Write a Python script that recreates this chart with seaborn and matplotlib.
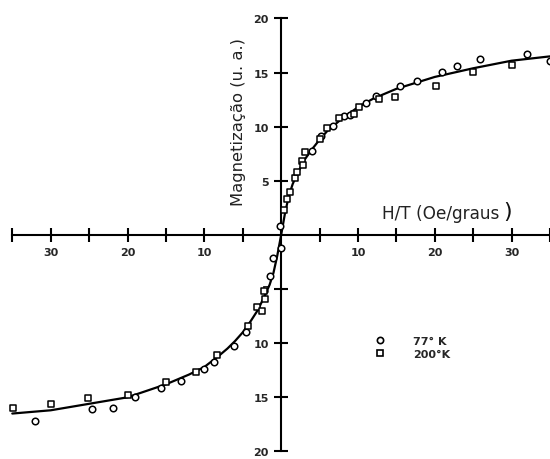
import matplotlib
matplotlib.use("Agg")
import matplotlib.pyplot as plt
import seaborn as sns
import numpy as np
from matplotlib.ticker import FuncFormatter
from matplotlib.lines import Line2D

# ---- data ----
c77_x = [-0.1, 0.0, -1.0, -1.4, -4.6, -6.2, -8.8, -10.1, -13.0, -15.6, -19.0, -21.9, -24.6, -32.0,
         4.0, 5.2, 6.7, 8.2, 8.9, 11.0, 12.4, 15.5, 17.7, 21.0, 22.9, 25.9, 32.0, 35.0]
c77_y = [0.8, -1.2, -2.1, -3.8, -9.0, -10.3, -11.7, -12.4, -13.5, -14.1, -15.0, -16.0, -16.1, -17.2,
         7.8, 9.1, 10.1, 11.0, 11.1, 12.2, 12.8, 13.8, 14.2, 15.1, 15.6, 16.3, 16.7, 16.1]

s200_x = [0.4, 0.8, 1.1, 1.8, 2.1, 2.7, 2.9, 3.1, 5.0, 6.0, 7.5, 9.5, 10.1, 12.7, 14.8, 20.2, 25.0, 30.0,
          -2.2, -2.1, -3.1, -2.5, -4.3, -8.3, -11.1, -15.0, -19.9, -25.1, -30.0, -34.9]
s200_y = [2.3, 3.3, 4.0, 5.3, 5.8, 6.8, 6.5, 7.7, 8.9, 9.9, 10.8, 11.2, 11.8, 12.6, 12.7, 13.8, 15.1, 15.7,
          -5.2, -5.9, -6.7, -7.0, -8.4, -11.1, -12.7, -13.6, -14.8, -15.1, -15.6, -16.0]

curve_x = [-35, -30, -25, -20, -15, -12, -10, -8, -7, -6, -5, -4, -3, -2, -1.5, -1, -0.5, 0,
           0.5, 1, 1.5, 2, 3, 4, 5, 6, 7, 8, 10, 12, 15, 20, 25, 30, 35]
curve_y = [-16.5, -16.2, -15.6, -15.0, -13.8, -12.9, -12.2, -11.1, -10.5, -9.8, -9.0, -8.0, -6.9, -5.4, -4.6, -3.5, -1.9, 0.0,
           2.0, 3.6, 4.7, 5.5, 6.9, 7.9, 8.8, 9.6, 10.2, 10.8, 11.8, 12.6, 13.5, 14.6, 15.4, 16.1, 16.5]

x_ticks = [-35, -30, -25, -20, -15, -10, -5, 5, 10, 15, 20, 25, 30, 35]
x_labeled = [-30, -20, -10, 10, 20, 30]
y_ticks_pos = [5, 10, 15, 20]
y_ticks_neg = [-5, -10, -15, -20]
legend_labels = ["77\u00b0 K", "200\u00b0K"]
ylabel = "Magnetiza\u00e7\u00e3o (u. a.)"
xlabel = "H/T (Oe/graus"

sns.set_theme(style="white")
plt.rcParams['font.family'] = ['DejaVu Sans']

fig = plt.figure(figsize=(5.5, 4.6), dpi=100)
ax = fig.add_axes([0, 0, 1, 1])
ax.set_xlim(-36.6, 35.0)
ax.set_ylim(-20.7, 21.8)

sns.lineplot(x=curve_x, y=curve_y, color="black", linewidth=1.6, ax=ax, sort=False)
sns.scatterplot(x=c77_x, y=c77_y, marker="o", s=22, facecolor="white", edgecolor="black",
                linewidth=1.1, ax=ax, zorder=3)
sns.scatterplot(x=s200_x, y=s200_y, marker="s", s=22, facecolor="white", edgecolor="black",
                linewidth=1.1, ax=ax, zorder=3)

for s in ["top", "right"]:
    ax.spines[s].set_visible(False)
ax.spines["left"].set_position(("data", 0))
ax.spines["bottom"].set_position(("data", 0))
ax.spines["left"].set_bounds(-20, 20)
ax.spines["bottom"].set_bounds(-35, 35)
for s in ["left", "bottom"]:
    ax.spines[s].set_linewidth(1.5)
    ax.spines[s].set_color("black")

ax.set_xticks(x_ticks)
ax.xaxis.set_major_formatter(FuncFormatter(lambda v, p: f"{abs(int(round(v)))}" if int(round(v)) in x_labeled else ""))
ax.set_yticks(y_ticks_pos)
ax.yaxis.set_major_formatter(FuncFormatter(lambda v, p: f"{abs(int(round(v)))}"))
ax.tick_params(axis="both", direction="inout", length=10, width=1.5, color="black",
               labelsize=8, pad=4)
ax.tick_params(axis="x", bottom=True)
ax.tick_params(axis="y", left=True)
for lab in ax.get_xticklabels() + ax.get_yticklabels():
    lab.set_fontweight("bold")

sec = ax.secondary_yaxis(0, transform=ax.transData)
sec.set_yticks(y_ticks_neg)
sec.yaxis.set_major_formatter(FuncFormatter(lambda v, p: f"{abs(int(round(v)))}"))
sec.tick_params(axis="y", direction="inout", length=10, width=1.5, color="black", labelsize=8, pad=4)
sec.spines["right"].set_visible(False)
sec.spines["left"].set_visible(False)
for lab in sec.get_yticklabels():
    lab.set_fontweight("bold")

ax.text(239 / 550, 1 - 122 / 460, ylabel, transform=ax.transAxes, rotation=90,
        ha="center", va="center", fontsize=11.8, color="#222222")
ax.text(382 / 550, 1 - 214 / 460, xlabel, transform=ax.transAxes,
        ha="left", va="center", fontsize=12.2, color="#222222")
ax.text(503.5 / 550, 1 - 212 / 460, ")", transform=ax.transAxes,
        ha="left", va="center", fontsize=16, color="#111111")

handles = [Line2D([], [], marker="o", linestyle="none", markersize=4.5, markerfacecolor="white",
                  markeredgecolor="black", markeredgewidth=1.2),
           Line2D([], [], marker="s", linestyle="none", markersize=5, markerfacecolor="white",
                  markeredgecolor="black", markeredgewidth=1.2)]
leg = ax.legend(handles, legend_labels, loc="upper left", bbox_to_anchor=(364 / 550, 1 - 327 / 460),
                frameon=False, handlelength=1.0, handletextpad=2.5, labelspacing=0.3,
                prop={"size": 8, "weight": "bold"})

fig.savefig("out.png", dpi=100)
